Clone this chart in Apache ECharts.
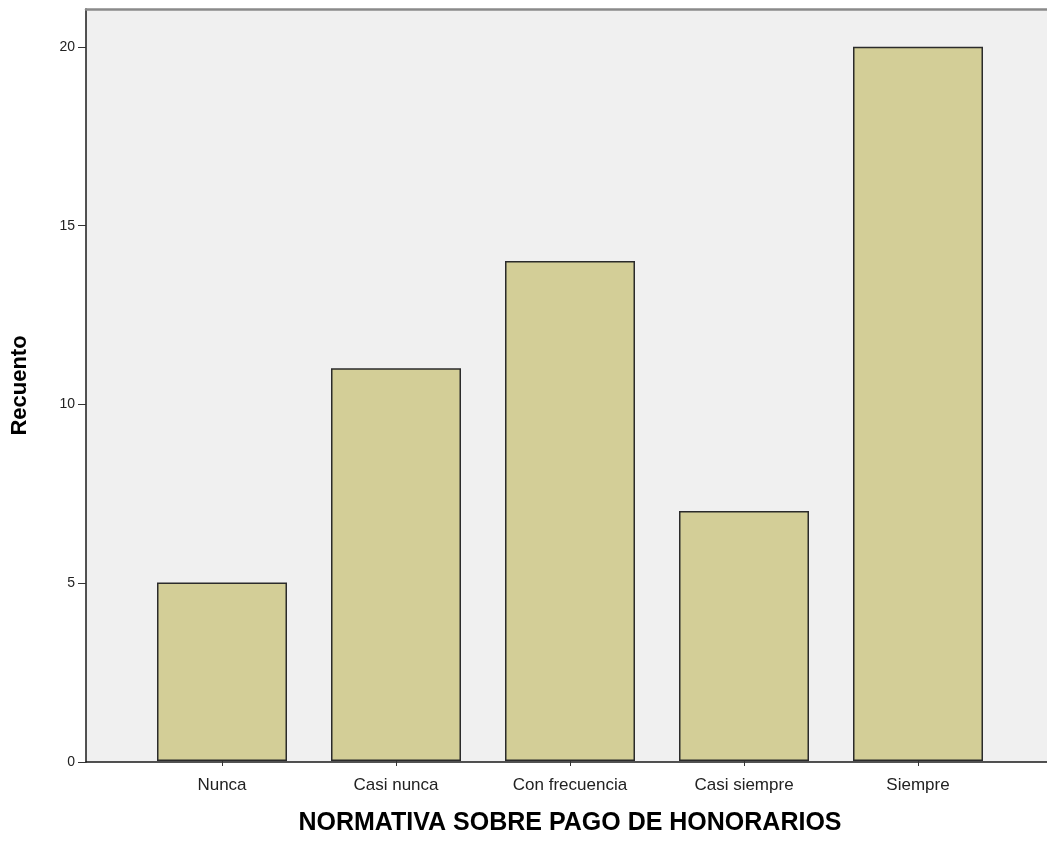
<!DOCTYPE html>
<html>
<head>
<meta charset="utf-8">
<script src="https://cdn.jsdelivr.net/npm/echarts@6/dist/echarts.min.js"></script>
<style>html,body{margin:0;padding:0;background:#fff}#c{width:1047px;height:841px}</style>
</head>
<body>
<div id="c"></div>
<script>
const categories = ["Nunca", "Casi nunca", "Con frecuencia", "Casi siempre", "Siempre"];
const counts = [5, 11, 14, 7, 20];
const yTicks = [0, 5, 10, 15, 20];
const yMax = 21.06;
const xTitle = "NORMATIVA SOBRE PAGO DE HONORARIOS";
const yTitle = "Recuento";

const font = "'Liberation Sans', Arial, sans-serif";
const chart = echarts.init(document.getElementById('c'));
chart.setOption({
  animation: false,
  grid: [
    {left: 86, top: 9, right: 0, bottom: 79, show: true, backgroundColor: '#F0F0F0', borderWidth: 0},
    {left: 135, top: 9, right: 42, bottom: 79}
  ],
  xAxis: [
    {gridIndex: 0, type: 'value', min: 0, max: 1,
     axisLine: {show: true, onZero: false, lineStyle: {color: '#1a1a1a', width: 1.5}},
     axisTick: {show: false}, axisLabel: {show: false}, splitLine: {show: false}},
    {gridIndex: 0, type: 'value', min: 0, max: 1, position: 'top',
     axisLine: {show: true, onZero: false, lineStyle: {color: '#8a8a8a', width: 2.5}},
     axisTick: {show: false}, axisLabel: {show: false}, splitLine: {show: false}},
    {gridIndex: 1, type: 'category', data: categories,
     axisLine: {show: false},
     axisTick: {show: true, alignWithLabel: true, length: 5, lineStyle: {color: '#333'}},
     axisLabel: {fontFamily: font, fontSize: 17, color: '#222', margin: 16},
     name: xTitle, nameLocation: 'middle', nameGap: 50,
     nameTextStyle: {fontFamily: font, fontSize: 25, fontWeight: 'bold', color: '#000'}}
  ],
  yAxis: [
    {gridIndex: 0, type: 'value', min: 0, max: yMax, interval: 5,
     axisLine: {show: true, lineStyle: {color: '#1a1a1a', width: 1.5}},
     axisTick: {show: true, length: 8, lineStyle: {color: '#333'}},
     axisLabel: {fontFamily: font, fontSize: 14, color: '#222', margin: 11, showMaxLabel: false,
       formatter: v => yTicks.includes(v) ? String(v) : ''},
     splitLine: {show: false},
     name: yTitle, nameLocation: 'middle', nameGap: 55,
     nameTextStyle: {fontFamily: font, fontSize: 22, fontWeight: 'bold', color: '#000'}},
    {gridIndex: 1, type: 'value', min: 0, max: yMax, show: false}
  ],
  series: [{
    type: 'bar', xAxisIndex: 2, yAxisIndex: 1, data: counts, barWidth: 130,
    itemStyle: {color: '#D3CE97', borderColor: '#2b2b2b', borderWidth: 1.5}
  }]
});
</script>
</body>
</html>
